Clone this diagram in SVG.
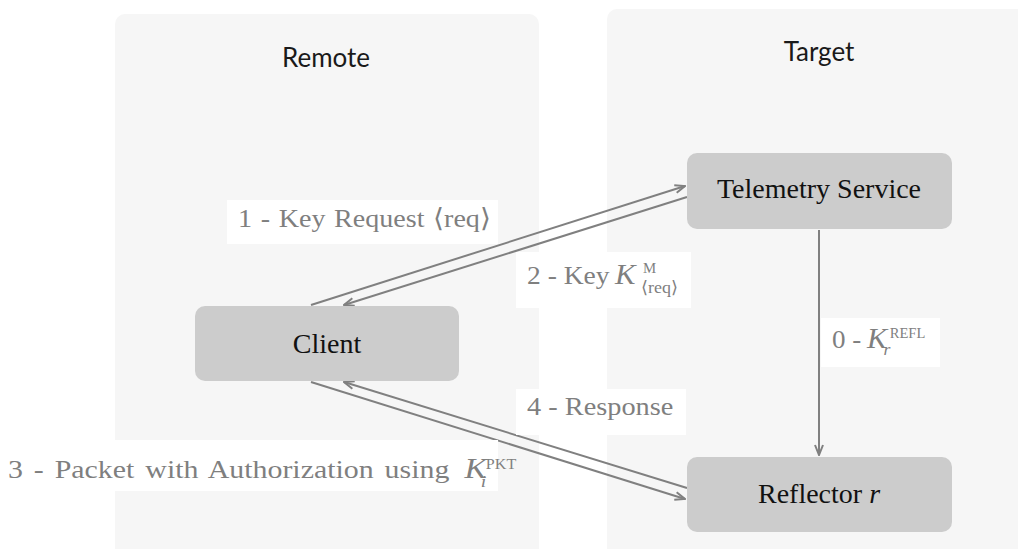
<svg xmlns="http://www.w3.org/2000/svg" width="1018" height="549" viewBox="0 0 1018 549">
<style>
.cluster{fill:#f6f6f6;}
.ctitle{font-family:Lato,"Open Sans",sans-serif;font-size:26px;font-weight:400;fill:#1a1a1a;text-anchor:middle;}
.node rect{fill:#cccccc;}
.ntext{font-family:"Liberation Serif","DejaVu Serif",serif;font-size:28px;fill:#111;text-anchor:middle;}
.edge{stroke:#808080;stroke-width:2;fill:none;marker-end:url(#arr);}
.lbox{fill:#ffffff;}
.ltext{font-family:"Liberation Serif","DejaVu Serif",serif;font-size:26px;fill:#7f7f7f;}
.it{font-style:italic;}
.mk{font-style:italic;font-size:29px;}
.sm{font-size:14px;}
.sub{font-size:17px;}
</style>
<defs>
<marker id="arr" viewBox="0 0 12 10" refX="11" refY="5" markerWidth="12" markerHeight="10" markerUnits="userSpaceOnUse" orient="auto">
<path d="M1,1 L11,5 L1,9" fill="none" stroke="#808080" stroke-width="2"/>
</marker>
</defs>
<rect width="1018" height="549" fill="#ffffff"/>
<g id="cluster-remote">
<rect class="cluster" x="115" y="14" width="424" height="560" rx="10"/>
<text class="ctitle" x="326" y="67">Remote</text>
</g>
<g id="cluster-target">
<rect class="cluster" x="607" y="9" width="430" height="565" rx="10"/>
<text class="ctitle" x="819" y="61">Target</text>
</g>
<g id="connectors">
<line class="edge" x1="311" y1="305" x2="685" y2="186"/>
<line class="edge" x1="687" y1="197" x2="344" y2="305"/>
<line class="edge" x1="819" y1="230" x2="819" y2="455"/>
<line class="edge" x1="311" y1="382" x2="685" y2="499"/>
<line class="edge" x1="687" y1="488" x2="344" y2="382"/>
</g>
<g id="edge-labels">
<rect class="lbox" x="227" y="200" width="271" height="44"/>
<g transform="translate(238,227) scale(1.08,1)"><text class="ltext" x="0" y="0" word-spacing="1.5">1 - Key Request ⟨req⟩</text></g>
<rect class="lbox" x="516" y="252" width="175" height="56"/>
<g transform="translate(527,284) scale(1.06,1)"><text class="ltext" x="0" y="0">2 - Key <tspan class="mk" x="83">K</tspan><tspan class="sm" x="109.4" y="-11">M</tspan><tspan class="sub" x="107.5" y="9">⟨req⟩</tspan></text></g>
<rect class="lbox" x="821" y="318" width="119" height="49"/>
<g transform="translate(832,348) scale(1.04,1)"><text class="ltext" x="0" y="0">0 - <tspan class="mk" x="33.6">K</tspan><tspan class="sm" x="55.5" y="-10">REFL</tspan><tspan class="it sub" x="49.5" y="7">r</tspan></text></g>
<rect class="lbox" x="0" y="440" width="498" height="51"/>
<g transform="translate(8,478) scale(1.15,1)"><text class="ltext" x="0" y="0" word-spacing="3">3 - Packet with Authorization using <tspan class="mk" x="397">K</tspan><tspan class="sm" x="415.5" y="-9">PKT</tspan><tspan class="it sub" x="411" y="9">i</tspan></text></g>
<rect class="lbox" x="516" y="389" width="170" height="46"/>
<g transform="translate(527,415) scale(1.09,1)"><text class="ltext" x="0" y="0">4 - Response</text></g>
</g>
<g id="node-telemetry" class="node">
<rect x="687" y="153" width="265" height="76" rx="10"/>
<text class="ntext" x="819" y="198">Telemetry Service</text>
</g>
<g id="node-client" class="node">
<rect x="195" y="306" width="264" height="75" rx="10"/>
<text class="ntext" x="327" y="353">Client</text>
</g>
<g id="node-reflector" class="node">
<rect x="687" y="457" width="265" height="75" rx="10"/>
<text class="ntext" x="819" y="503">Reflector <tspan class="it">r</tspan></text>
</g>
</svg>
